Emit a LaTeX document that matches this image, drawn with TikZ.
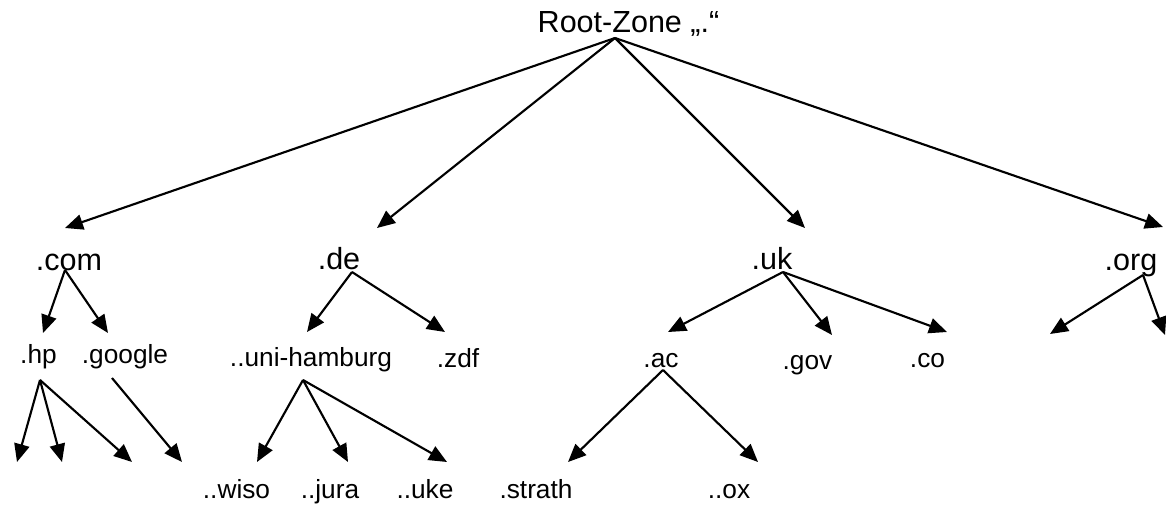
\documentclass[tikz,border=0pt]{standalone}
\usepackage{fontspec}
\setmainfont{Liberation Sans}
\usetikzlibrary{arrows.meta}
\begin{document}
\begin{tikzpicture}[x=0.75pt,y=-0.75pt,
  arr/.style={line width=1.6pt,-{Triangle[length=13.5pt,width=11.5pt]}},
  big/.style={anchor=base,inner sep=0pt,font=\fontsize{22.9}{26}\selectfont},
  small/.style={anchor=base,inner sep=0pt,font=\fontsize{19.7}{23}\selectfont}]
\useasboundingbox[fill=white] (0,0) rectangle (1166,504);
% texts
\node[big] (root) at (628.5,32) {Root-Zone „.“};
\node[big] (com) at (69,270) {.com};
\node[big] (de) at (339,269) {.de};
\node[big] (uk) at (772,269) {.uk};
\node[big] (org) at (1131,270) {.org};
\node[small] (hp) at (38.5,363) {.hp};
\node[small] (google) at (125,363) {.google};
\node[small] (unihh) at (311,366) {..uni-hamburg};
\node[small] (zdf) at (458,367) {.zdf};
\node[small] (ac) at (661,367) {.ac};
\node[small] (gov) at (807.5,369) {.gov};
\node[small] (co) at (927.5,367) {.co};
\node[small] (wiso) at (236.5,498) {..wiso};
\node[small] (jura) at (330,498) {..jura};
\node[small] (uke) at (425,498) {..uke};
\node[small] (strath) at (536,498) {.strath};
\node[small] (ox) at (729,498) {..ox};
% connector start points
\coordinate (rA) at (615,38);
\coordinate (cA) at (65,270);
\coordinate (dA) at (352,272);
\coordinate (uA) at (783,272);
\coordinate (oA) at (1143,275);
\coordinate (hA) at (40,380);
\coordinate (gA) at (112,378);
\coordinate (mA) at (303,380);
\coordinate (aA) at (663,370);
% connector end points
\coordinate (tCom) at (65,228);
\coordinate (tDe) at (377,228);
\coordinate (tUk) at (805,228);
\coordinate (tOrg) at (1163,227);
\coordinate (tHp) at (43,333);
\coordinate (tGoogle) at (108,333);
\coordinate (tUni) at (307,332);
\coordinate (tZdf) at (445,332);
\coordinate (tAc) at (668,332);
\coordinate (tGov) at (832,335);
\coordinate (tCo) at (947,332);
\coordinate (tO1) at (1050,334);
\coordinate (tO2) at (1165,335);
\coordinate (tH1) at (17,462);
\coordinate (tH2) at (62,462);
\coordinate (tH3) at (132,462);
\coordinate (tG1) at (182,462);
\coordinate (tWiso) at (257,462);
\coordinate (tJura) at (348,462);
\coordinate (tUke) at (447,462);
\coordinate (tStrath) at (568,462);
\coordinate (tOx) at (758,462);
% connectors
\foreach \t in {tCom,tDe,tUk,tOrg} \draw[arr] (rA) -- (\t);
\foreach \t in {tHp,tGoogle} \draw[arr] (cA) -- (\t);
\foreach \t in {tUni,tZdf} \draw[arr] (dA) -- (\t);
\foreach \t in {tAc,tGov,tCo} \draw[arr] (uA) -- (\t);
\foreach \t in {tO1,tO2} \draw[arr] (oA) -- (\t);
\foreach \t in {tH1,tH2,tH3} \draw[arr] (hA) -- (\t);
\draw[arr] (gA) -- (tG1);
\foreach \t in {tWiso,tJura,tUke} \draw[arr] (mA) -- (\t);
\foreach \t in {tStrath,tOx} \draw[arr] (aA) -- (\t);
\end{tikzpicture}
\end{document}
